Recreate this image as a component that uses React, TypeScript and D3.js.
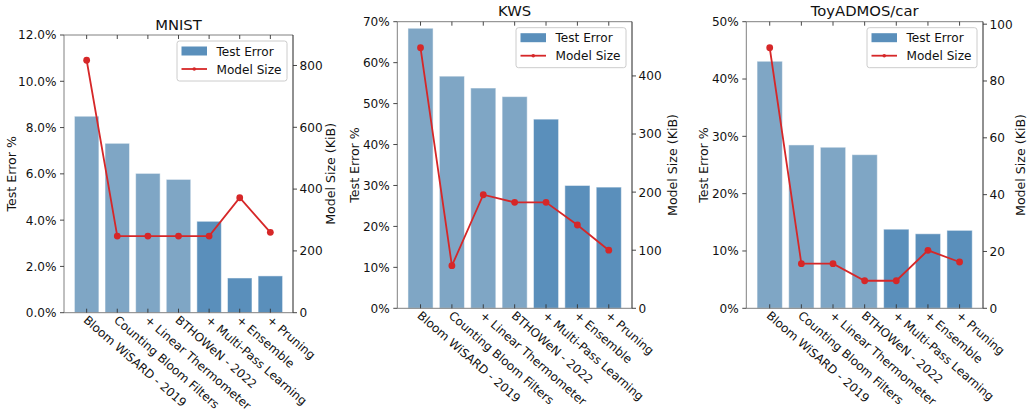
import React from "react";
import * as d3 from "d3";

const methods = [
  "Bloom WiSARD - 2019",
  "Counting Bloom Filters",
  "+ Linear Thermometer",
  "BTHOWeN - 2022",
  "+ Multi-Pass Learning",
  "+ Ensemble",
  "+ Pruning",
];
const highlighted = [false, false, false, false, true, true, true];

const mnistError = [8.49, 7.32, 6.02, 5.76, 3.95, 1.5, 1.59];
const mnistSize = [817, 248, 248, 248, 248, 372, 260];
const mnistErrTicks = [0, 2, 4, 6, 8, 10, 12];
const mnistSizeTicks = [0, 200, 400, 600, 800];

const kwsError = [68.4, 56.7, 53.8, 51.7, 46.2, 30.0, 29.6];
const kwsSize = [448.5, 73.3, 195.5, 182.4, 182.4, 143.4, 100];
const kwsErrTicks = [0, 10, 20, 30, 40, 50, 60, 70];
const kwsSizeTicks = [0, 100, 200, 300, 400];

const toyError = [43.1, 28.5, 28.1, 26.8, 13.8, 13.0, 13.6];
const toySize = [91.7, 15.7, 15.7, 9.7, 9.7, 20.4, 16.3];
const toyErrTicks = [0, 10, 20, 30, 40, 50];
const toySizeTicks = [0, 20, 40, 60, 80, 100];

const FONT = "DejaVu Sans, Liberation Sans, sans-serif";
const LIGHT = "#7fa6c5";
const DARK = "#5a8fbb";
const RED = "#d62728";
const FS = 12.1;
const AFS = 12.6;
const XFS = 11.9;
const LFS = 12.1;

type PanelProps = {
  title: string;
  left: number;
  right: number;
  top: number;
  bottom: number;
  errors: number[];
  sizes: number[];
  errTicks: number[];
  sizeTicks: number[];
  errMax: number;
  decimals: number;
  leftLabelX: number;
  rightLabelX: number;
};

function Panel(p: PanelProps) {
  const x = d3.scaleLinear().domain([-0.74, 6.74]).range([p.left, p.right]);
  const y = d3.scaleLinear().domain([0, p.errMax]).range([p.bottom, p.top]);
  const sizeMax = (d3.max(p.sizes) as number) * 1.1;
  const y2 = d3.scaleLinear().domain([0, sizeMax]).range([p.bottom, p.top]);
  const line = d3
    .line<number>()
    .x((_, i) => x(i))
    .y((d) => y2(d));
  const midY = (p.top + p.bottom) / 2;
  const legW = 110;
  const legH = 40;
  const legX = p.right - 6 - legW;
  const legY = p.top + 6;
  return (
    <g>
      {p.errors.map((v, i) => (
        <rect
          key={"b" + i}
          x={x(i - 0.4)}
          y={y(v)}
          width={x(i + 0.4) - x(i - 0.4)}
          height={y(0) - y(v)}
          fill={highlighted[i] ? DARK : LIGHT}
          stroke="#ffffff"
          strokeOpacity={0.5}
          strokeWidth={1}
        />
      ))}
      <path d={line(p.sizes) || ""} fill="none" stroke={RED} strokeWidth={1.8} />
      {p.sizes.map((v, i) => (
        <circle key={"m" + i} cx={x(i)} cy={y2(v)} r={3.4} fill={RED} />
      ))}
      <line x1={p.left} x2={p.left} y1={p.top} y2={p.bottom} stroke="#808080" strokeWidth={1} />
      <line x1={p.left} x2={p.right} y1={p.top} y2={p.top} stroke="#808080" strokeWidth={1} />
      <line x1={p.left} x2={p.right} y1={p.bottom} y2={p.bottom} stroke="#808080" strokeWidth={1} />
      <line x1={p.right} x2={p.right} y1={p.top} y2={p.bottom} stroke="#222" strokeWidth={1} />
      {methods.map((m, i) => (
        <g key={"xt" + i}>
          <line x1={x(i)} x2={x(i)} y1={p.bottom} y2={p.bottom - 4} stroke="#333" strokeWidth={0.9} />
          <line x1={x(i)} x2={x(i)} y1={p.top} y2={p.top + 4} stroke="#333" strokeWidth={0.9} />
          <text
            transform={`translate(${x(i) - 4},${p.bottom + 8.5}) rotate(41)`}
            fontSize={XFS}
            fontFamily={FONT}
            fill="#111"
          >
            {m}
          </text>
        </g>
      ))}
      {p.errTicks.map((t) => (
        <g key={"yl" + t}>
          <line x1={p.left - 4} x2={p.left} y1={y(t)} y2={y(t)} stroke="#333" strokeWidth={0.9} />
          <text
            x={p.left - 7.5}
            y={y(t) + 4.4}
            textAnchor="end"
            fontSize={FS}
            fontFamily={FONT}
            fill="#111"
          >
            {t.toFixed(p.decimals) + "%"}
          </text>
        </g>
      ))}
      {p.sizeTicks.map((t) => (
        <g key={"yr" + t}>
          <line x1={p.right} x2={p.right + 4} y1={y2(t)} y2={y2(t)} stroke="#333" strokeWidth={0.9} />
          <text x={p.right + 6.5} y={y2(t) + 4.4} fontSize={FS} fontFamily={FONT} fill="#111">
            {t}
          </text>
        </g>
      ))}
      <text
        x={(p.left + p.right) / 2}
        y={p.top - 5.5}
        textAnchor="middle"
        fontSize={14.8}
        fontFamily={FONT}
        fill="#111"
      >
        {p.title}
      </text>
      <text
        transform={`translate(${p.leftLabelX + 4.6},${midY}) rotate(-90)`}
        textAnchor="middle"
        fontSize={AFS}
        fontFamily={FONT}
        fill="#111"
      >
        Test Error %
      </text>
      <text
        transform={`translate(${p.rightLabelX + 4.6},${midY}) rotate(-90)`}
        textAnchor="middle"
        fontSize={AFS}
        fontFamily={FONT}
        fill="#111"
      >
        Model Size (KiB)
      </text>
      <rect
        x={legX}
        y={legY}
        width={legW}
        height={legH}
        rx={2.5}
        fill="#ffffff"
        fillOpacity={0.8}
        stroke="#cccccc"
        strokeWidth={1}
      />
      <rect x={legX + 4.5} y={legY + 5.5} width={25.5} height={9} fill={DARK} />
      <text x={legX + 39.5} y={legY + 14.5} fontSize={LFS} fontFamily={FONT} fill="#111">
        Test Error
      </text>
      <line x1={legX + 4.5} x2={legX + 30} y1={legY + 28} y2={legY + 28} stroke={RED} strokeWidth={1.8} />
      <circle cx={legX + 17.25} cy={legY + 28} r={1.8} fill={RED} />
      <text x={legX + 39.5} y={legY + 32.5} fontSize={LFS} fontFamily={FONT} fill="#111">
        Model Size
      </text>
    </g>
  );
}

export default function App() {
  return (
    <div style={{ position: "fixed", left: 0, top: 0 }}>
      <svg width={1032} height={420} style={{ display: "block", background: "#fff" }}>
        <Panel
          title="MNIST"
          left={64}
          right={293}
          top={35}
          bottom={312.7}
          errors={mnistError}
          sizes={mnistSize}
          errTicks={mnistErrTicks}
          sizeTicks={mnistSizeTicks}
          errMax={12}
          decimals={1}
          leftLabelX={11.7}
          rightLabelX={330}
        />
        <Panel
          title="KWS"
          left={397.3}
          right={632}
          top={21.7}
          bottom={308.3}
          errors={kwsError}
          sizes={kwsSize}
          errTicks={kwsErrTicks}
          sizeTicks={kwsSizeTicks}
          errMax={70}
          decimals={0}
          leftLabelX={354}
          rightLabelX={672.3}
        />
        <Panel
          title="ToyADMOS/car"
          left={746.3}
          right={983}
          top={21.7}
          bottom={308.3}
          errors={toyError}
          sizes={toySize}
          errTicks={toyErrTicks}
          sizeTicks={toySizeTicks}
          errMax={50}
          decimals={0}
          leftLabelX={703}
          rightLabelX={1020.5}
        />
      </svg>
    </div>
  );
}
